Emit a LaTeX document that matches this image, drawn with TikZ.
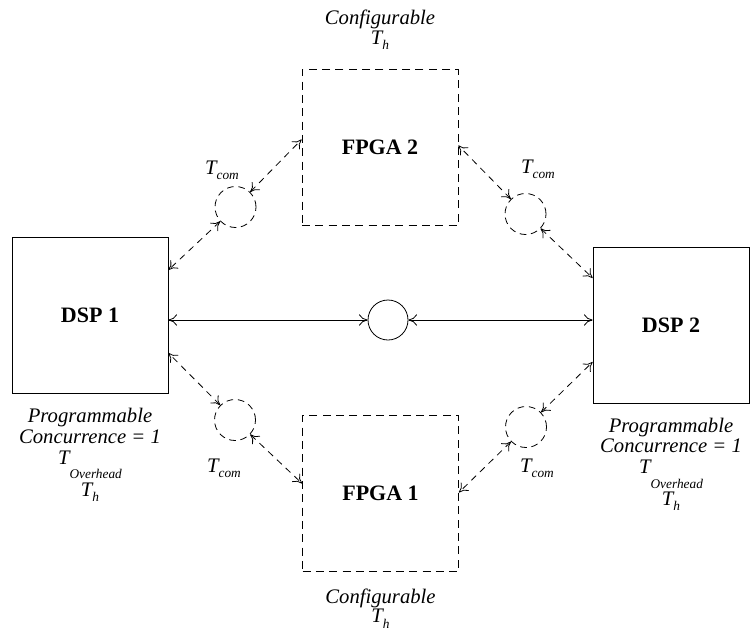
\documentclass[tikz,border=0pt]{standalone}
\usepackage{fontspec}
\setmainfont{Liberation Serif}
\usetikzlibrary{arrows.meta,positioning,calc}
\newcommand{\Tsub}[2][3.75pt]{\textit{T}\raisebox{-#1}{\fontsize{10}{10}\selectfont\textit{#2}}}
\tikzset{
  unit/.style={draw, line width=0.6pt, minimum width=117pt, minimum height=117pt, inner sep=0pt, font=\fontsize{16.5}{19}\selectfont\bfseries},
  fpga/.style={unit, dash pattern=on 6pt off 4pt},
  hub/.style={circle, draw, line width=0.6pt, minimum size=30pt, inner sep=0pt},
  link/.style={circle, draw, line width=0.6pt, dash pattern=on 5pt off 3.5pt, minimum size=30.75pt, inner sep=0pt},
  lbl/.style={align=center, font=\fontsize{15.5}{15.5}\selectfont\itshape, inner sep=0pt},
  arr/.style={{To[length=6.5pt,width=8.5pt]}-{To[length=6.5pt,width=8.5pt]}, line width=0.6pt},
  darr/.style={arr, dash pattern=on 5pt off 4pt},
}
\begin{document}
\lineskiplimit=-20pt
\begin{tikzpicture}[x=0.75pt, y=-0.75pt]
  \useasboundingbox (0,0) rectangle (750,632);
  \node[unit] (dsp1) at (90,315) {DSP 1};
  \node[unit] (dsp2) at (671,325) {DSP 2};
  \node[fpga] (fpga2) at (380,147.5) {FPGA 2};
  \node[fpga] (fpga1) at (380.5,493.5) {FPGA 1};
  \node[hub] (hub) at (388,320) {};
  \node[link] (ltop) at (235.5,207) {};
  \node[link] (rtop) at (525.5,214) {};
  \node[link] (lbot) at (235,420) {};
  \node[link] (rbot) at (526,427) {};
  % labels
  \node[lbl, above=14.5pt of fpga2] (cfg2) {Configurable\\[-1pt]\Tsub[4pt]{h}};
  \node[lbl, below=12.5pt of fpga1] (cfg1) {Configurable\\[-1pt]\Tsub[4pt]{h}};
  \node[lbl, below=11pt of dsp1] (prg1) {Programmable\\Concurrence = 1\\\Tsub[11pt]{Overhead}\\[8.5pt]\Tsub[4pt]{h}};
  \node[lbl, below=10.5pt of dsp2] (prg2) {Programmable\\Concurrence = 1\\\Tsub[11pt]{Overhead}\\[8.5pt]\Tsub[4pt]{h}};
  \node[lbl] (tc1) at (222,170) {\Tsub{com}};
  \node[lbl] (tc2) at (538,169) {\Tsub{com}};
  \node[lbl] (tc3) at (224,468) {\Tsub{com}};
  \node[lbl] (tc4) at (537,468) {\Tsub{com}};
  % links
  \draw[arr] (dsp1.east |- hub.west) -- (hub.west);
  \draw[arr] (hub.east) -- (dsp2.west |- hub.east);
  \draw[darr] (ltop) -- ($(dsp1.east)+(0,-45)$);
  \draw[darr] (ltop) -- ($(fpga2.west)+(0,-8)$);
  \draw[darr] (lbot) -- ($(dsp1.east)+(0,38)$);
  \draw[darr] (lbot) -- ($(fpga1.west)+(0,-10)$);
  \draw[darr] (rtop) -- ($(fpga2.east)+(0,-2)$);
  \draw[darr] (rtop) -- ($(dsp2.west)+(0,-47)$);
  \draw[darr] (rbot) -- ($(fpga1.east)+(0,-1)$);
  \draw[darr] (rbot) -- ($(dsp2.west)+(0,37)$);
\end{tikzpicture}
\end{document}
